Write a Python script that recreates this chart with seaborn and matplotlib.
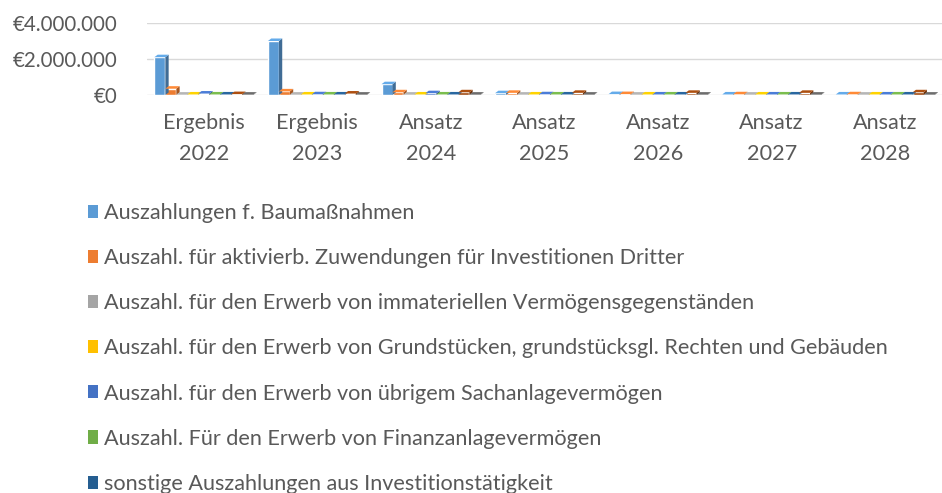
import numpy as np
import pandas as pd
import seaborn as sns
import matplotlib.pyplot as plt
from matplotlib.patches import Patch
from matplotlib.ticker import FuncFormatter

# categories
jahre = ['Ergebnis\n2022', 'Ergebnis\n2023', 'Ansatz\n2024', 'Ansatz\n2025',
         'Ansatz\n2026', 'Ansatz\n2027', 'Ansatz\n2028']

# series names (only the first seven are visible in the legend)
reihen = ['Auszahlungen f. Baumaßnahmen',
          'Auszahl. für aktivierb. Zuwendungen für Investitionen Dritter',
          'Auszahl. für den Erwerb von immateriellen Vermögensgegenständen',
          'Auszahl. für den Erwerb von Grundstücken, grundstücksgl. Rechten und Gebäuden',
          'Auszahl. für den Erwerb von übrigem Sachanlagevermögen',
          'Auszahl. Für den Erwerb von Finanzanlagevermögen',
          'sonstige Auszahlungen aus Investitionstätigkeit',
          'Reihe 8', 'Reihe 9']

# values (EUR)
baumassnahmen = [2100000, 3000000, 600000, 100000, 50000, 30000, 30000]
zuwendungen   = [350000, 200000, 150000, 120000, 50000, 40000, 40000]
immateriell   = [20000, 20000, 20000, 20000, 20000, 20000, 20000]
grundstuecke  = [30000, 30000, 30000, 30000, 30000, 30000, 30000]
sachanlagen   = [80000, 40000, 100000, 40000, 30000, 30000, 30000]
finanzanlagen = [30000, 30000, 30000, 30000, 30000, 30000, 30000]
sonstige      = [30000, 30000, 30000, 30000, 30000, 30000, 30000]
reihe8        = [50000, 80000, 150000, 120000, 120000, 120000, 150000]
reihe9        = [20000, 20000, 20000, 20000, 20000, 20000, 20000]

farben = ['#5B9BD5', '#ED7D31', '#A5A5A5', '#FFC000', '#4472C4',
          '#70AD47', '#255E91', '#9E480E', '#636363']

werte = [baumassnahmen, zuwendungen, immateriell, grundstuecke, sachanlagen,
         finanzanlagen, sonstige, reihe8, reihe9]
df = pd.DataFrame([(j, r, w[i]) for r, w in zip(reihen, werte) for i, j in enumerate(jahre)],
                  columns=['jahr', 'reihe', 'wert'])

sns.set_theme(style='white')
plt.rcParams['font.family'] = ['Lato', 'DejaVu Sans']
textfarbe = '#595959'
fs = 15.6

fig = plt.figure(figsize=(9.42, 4.93), dpi=100)
ax = fig.add_axes([147 / 942, (493 - 95) / 493, 795 / 942, 72 / 493])

sns.barplot(data=df, x='jahr', y='wert', hue='reihe', palette=farben,
            width=0.87, gap=0, legend=False, ax=ax, saturation=1)

# fake 3d: darker side and lighter top faces
for p in list(ax.patches):
    c = np.array(p.get_facecolor()[:3])
    x0, y0 = p.get_x(), p.get_y()
    w, h = p.get_width(), p.get_height()
    dx = w * 0.3
    dy = 4e6 * 0.035
    ax.fill([x0 + w, x0 + w + dx, x0 + w + dx, x0 + w], [y0, y0 + dy, y0 + h + dy, y0 + h],
            color=c * 0.7, lw=0, zorder=p.get_zorder())
    ax.fill([x0, x0 + dx, x0 + w + dx, x0 + w], [y0 + h, y0 + h + dy, y0 + h + dy, y0 + h],
            color=np.minimum(c * 1.1, 1), lw=0, zorder=p.get_zorder())

ax.set_xlim(-0.5, len(jahre) - 0.5)
ax.set_ylim(0, 4000000)
ax.set_yticks([0, 2000000, 4000000])
ax.yaxis.set_major_formatter(FuncFormatter(lambda v, pos: '€' + f'{int(v):,}'.replace(',', '.')))
ax.grid(axis='y', color='#D9D9D9', lw=1)
ax.set_axisbelow(True)
for s in ax.spines.values():
    s.set_visible(False)
ax.set_xlabel('')
ax.set_ylabel('')
ax.tick_params(axis='both', length=0, labelcolor=textfarbe)
ax.tick_params(axis='x', pad=13, labelsize=fs)
ax.tick_params(axis='y', pad=21, labelsize=14.8)
for t in ax.get_xticklabels():
    t.set_linespacing(1.68)

handles = [Patch(facecolor=f, edgecolor='none') for f in farben[:7]]
fig.legend(handles, reihen[:7], loc='upper left', bbox_to_anchor=(88 / 942, 1 - 203 / 493),
           frameon=False, fontsize=fs, labelcolor=textfarbe, handlelength=0.45, handleheight=0.55,
           handletextpad=0.3, labelspacing=1.16, borderaxespad=0, borderpad=0)

fig.savefig('out.png', dpi=100)
plt.close('all')
